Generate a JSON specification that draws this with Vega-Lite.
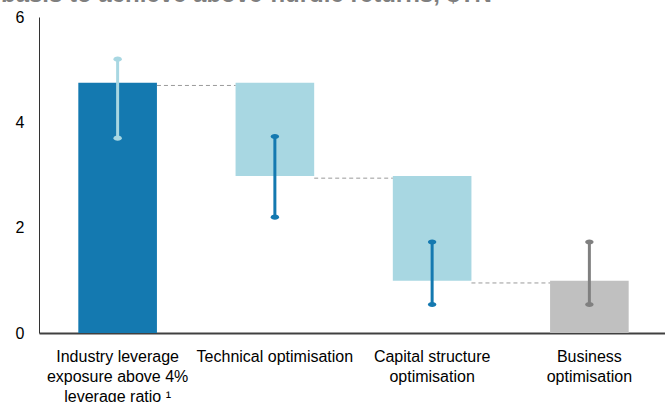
{
  "$schema": "https://vega.github.io/schema/vega-lite/v6.json",
  "width": 629,
  "height": 316,
  "autosize": {"type": "none"},
  "padding": {"left": 39, "top": 17, "right": 0, "bottom": 69},
  "background": "white",
  "title": {
    "text": "basis to achieve above-hurdle returns, $TN",
    "anchor": "start",
    "frame": "group",
    "fontSize": 24,
    "fontWeight": "bold",
    "color": "#7f7f7f",
    "font": "Liberation Sans",
    "baseline": "alphabetic",
    "offset": 0,
    "dx": -38,
    "dy": 17
  },
  "config": {"view": {"stroke": null}, "font": "Liberation Sans"},
  "datasets": {
    "bars": [
      {"cat": "Industry leverage|exposure above 4%|leverage ratio ¹", "lo": 0, "hi": 4.75, "kind": "Industry exposure"},
      {"cat": "Technical optimisation", "lo": 2.98, "hi": 4.75, "kind": "Optimisation step"},
      {"cat": "Capital structure|optimisation", "lo": 0.99, "hi": 2.98, "kind": "Optimisation step"},
      {"cat": "Business|optimisation", "lo": 0, "hi": 0.99, "kind": "Business"}
    ],
    "errs": [
      {"cat": "Industry leverage|exposure above 4%|leverage ratio ¹", "elo": 3.7, "ehi": 5.2, "kind": "Range on industry"},
      {"cat": "Technical optimisation", "elo": 2.2, "ehi": 3.73, "kind": "Range on step"},
      {"cat": "Capital structure|optimisation", "elo": 0.54, "ehi": 1.73, "kind": "Range on step"},
      {"cat": "Business|optimisation", "elo": 0.54, "ehi": 1.73, "kind": "Range on business"}
    ],
    "links": [
      {"from": "Industry leverage|exposure above 4%|leverage ratio ¹", "to": "Technical optimisation", "y": 4.7},
      {"from": "Technical optimisation", "to": "Capital structure|optimisation", "y": 2.94},
      {"from": "Capital structure|optimisation", "to": "Business|optimisation", "y": 0.95}
    ]
  },
  "layer": [
    {
      "data": {"name": "bars"},
      "mark": {"type": "bar"},
      "encoding": {
        "x": {
          "field": "cat", "type": "nominal",
          "scale": {"domain": ["Industry leverage|exposure above 4%|leverage ratio ¹", "Technical optimisation", "Capital structure|optimisation", "Business|optimisation"], "paddingInner": 0.5, "paddingOuter": 0.25},
          "axis": {"title": null, "ticks": false, "domainColor": "#404040", "domainWidth": 2, "labelAngle": 0, "labelFontSize": 16, "labelColor": "#000000", "labelLineHeight": 20, "labelPadding": 15, "labelLimit": 300, "labelExpr": "split(datum.value, '|')"}
        },
        "y": {
          "field": "lo", "type": "quantitative",
          "scale": {"domain": [0, 6], "nice": false, "zero": true},
          "axis": {"title": null, "values": [0, 2, 4, 6], "ticks": false, "grid": false, "domainColor": "#333333", "domainWidth": 1, "labelFontSize": 16, "labelColor": "#000000", "labelPadding": 15}
        },
        "y2": {"field": "hi"},
        "color": {
          "field": "kind", "type": "nominal", "legend": null,
          "scale": {
            "domain": ["Industry exposure", "Optimisation step", "Business", "Range on industry", "Range on step", "Range on business"],
            "range": ["#1479b0", "#a8d7e2", "#c0c0c0", "#a8d7e2", "#1479b0", "#808080"]
          }
        }
      }
    },
    {
      "data": {"name": "links"},
      "mark": {"type": "rule", "color": "#9a9a9a", "strokeDash": [4, 3], "strokeWidth": 1},
      "encoding": {
        "x": {"field": "from", "type": "nominal", "bandPosition": 1},
        "x2": {"field": "to", "bandPosition": 0},
        "y": {"field": "y", "type": "quantitative"}
      }
    },
    {
      "data": {"name": "errs"},
      "mark": {"type": "rule", "strokeWidth": 3},
      "encoding": {
        "x": {"field": "cat", "type": "nominal"},
        "y": {"field": "elo", "type": "quantitative"},
        "y2": {"field": "ehi"},
        "color": {"field": "kind", "type": "nominal"}
      }
    },
    {
      "data": {"name": "errs"},
      "mark": {"type": "point", "filled": true, "opacity": 1, "size": 70, "shape": "M-1,0A1,0.6 0 1,0 1,0A1,0.6 0 1,0 -1,0Z"},
      "encoding": {
        "x": {"field": "cat", "type": "nominal"},
        "y": {"field": "elo", "type": "quantitative"},
        "color": {"field": "kind", "type": "nominal"}
      }
    },
    {
      "data": {"name": "errs"},
      "mark": {"type": "point", "filled": true, "opacity": 1, "size": 70, "shape": "M-1,0A1,0.6 0 1,0 1,0A1,0.6 0 1,0 -1,0Z"},
      "encoding": {
        "x": {"field": "cat", "type": "nominal"},
        "y": {"field": "ehi", "type": "quantitative"},
        "color": {"field": "kind", "type": "nominal"}
      }
    }
  ]
}
